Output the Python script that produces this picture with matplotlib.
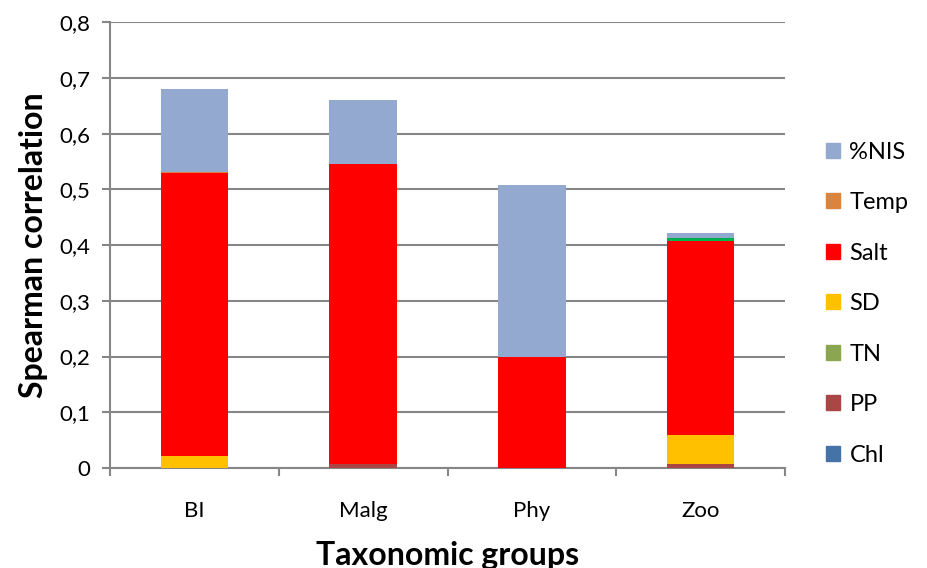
import matplotlib.pyplot as plt
import numpy as np

plt.rcParams['font.family'] = ['Lato', 'DejaVu Sans']

groups = ['BI', 'Malg', 'Phy', 'Zoo']

# segment heights, stacked from bottom
chl = [0, 0, 0, 0]
pp = [0, 0.008, 0, 0.007]
sd = [0.022, 0, 0, 0.053]
salt = [0.507, 0.537, 0.199, 0.348]
tn = [0, 0, 0, 0.005]
temp = [0.003, 0, 0, 0]
nis = [0.148, 0.115, 0.309, 0.009]

series = [
    ('Chl', chl, '#4572A7'),
    ('PP', pp, '#AA4643'),
    ('SD', sd, '#FFC000'),
    ('Salt', salt, '#FF0000'),
    ('TN', tn, '#00B050'),
    ('Temp', temp, '#DB843D'),
    ('%NIS', nis, '#93A9CF'),
]
legend_order = ['%NIS', 'Temp', 'Salt', 'SD', 'TN', 'PP', 'Chl']
legend_colors = {'%NIS': '#93A9CF', 'Temp': '#DB843D', 'Salt': '#FF0000',
                 'SD': '#FFC000', 'TN': '#8BA650', 'PP': '#AA4643', 'Chl': '#4572A7'}

fig = plt.figure(figsize=(9.28, 5.68), dpi=100)
ax = fig.add_axes([0.1185, 0.176, 0.7275, 0.785])

x = np.arange(len(groups))
bottom = np.zeros(len(groups))
for name, vals, col in series:
    vals = np.array(vals)
    ax.bar(x, vals, 0.4, bottom=bottom, color=col, edgecolor='none', zorder=3)
    bottom += vals

ax.set_xlim(-0.5, 3.5)
ax.set_ylim(0, 0.8)
yt = np.arange(0, 0.81, 0.1)
ax.set_yticks(yt)
ax.set_yticklabels([('%.1f' % v).replace('.', ',') if v > 0 else '0' for v in yt], fontsize=16)
ax.set_xticks(x)
ax.set_xticklabels(groups, fontsize=16)
ax.set_xticks(np.arange(-0.5, 4, 1), minor=True)
ax.tick_params(axis='x', which='major', length=0, pad=24)
ax.tick_params(axis='x', which='minor', length=6, color='#868686', width=1.5)
ax.tick_params(axis='y', length=6, color='#868686', width=1.5, direction='out', pad=8)
ax.grid(axis='y', color='#868686', linewidth=1.5, zorder=0)
for s in ['top', 'right']:
    ax.spines[s].set_visible(False)
ax.spines['left'].set_color('#868686')
ax.spines['left'].set_linewidth(1.5)
ax.spines['bottom'].set_color('#868686')
ax.spines['bottom'].set_linewidth(1.5)

ax.set_ylabel('Spearman correlation', fontsize=23, fontweight='bold', labelpad=8)
ax.set_xlabel('Taxonomic groups', fontsize=23, fontweight='bold', labelpad=14)

handles = [plt.Rectangle((0, 0), 1, 1, color=legend_colors[n]) for n in legend_order]
fig.legend(handles, legend_order, loc='upper left', bbox_to_anchor=(0.867, 0.788),
           frameon=False, fontsize=17, handlelength=0.6, handleheight=0.6,
           labelspacing=1.25, handletextpad=0.4)

fig.savefig('out.png', dpi=100)
